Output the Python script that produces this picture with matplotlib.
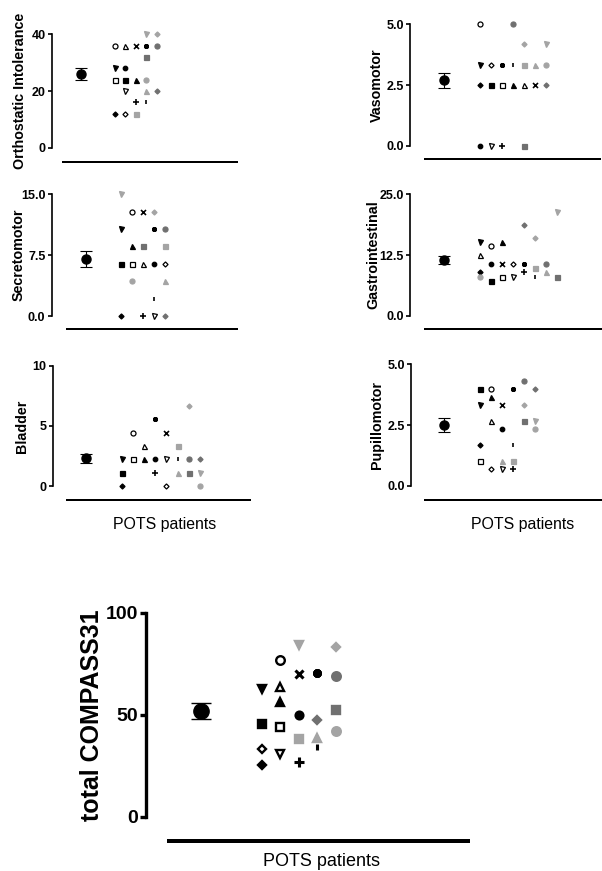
import numpy as np
import matplotlib
matplotlib.use("Agg")
import matplotlib.pyplot as plt

plt.rcParams['font.family'] = ['Liberation Sans', 'DejaVu Sans']

# === Data: one value per patient (22 POTS patients), COMPASS-31 domain scores ===
orthostatic = [28, 24, 12, 12, 36, 36, 24, 24, 20, 36, 28, 16, 36, 16, 40, 12, 20, 20, 40, 36, 32, 24]
vasomotor = [3.33, 2.5, 3.33, 2.5, 5.0, 2.5, 2.5, 2.5, 0, 2.5, 0, 0, 3.33, 3.33, 4.17, 3.33, 3.33, 2.5, 4.17, 5.0, 0, 3.33]
secretomotor = [10.71, 6.43, 6.43, 0, 12.86, 6.43, 8.57, 6.43, 0, 12.86, 6.43, 0, 10.71, 2.14, 15.0, 8.57, 4.29, 0, 12.86, 10.71, 8.57, 4.29]
gastro = [15.18, 7.14, 10.71, 8.93, 14.29, 12.5, 15.18, 8.04, 8.04, 10.71, 10.71, 8.93, 10.71, 8.04, 21.43, 9.82, 8.93, 18.75, 16.07, 10.71, 8.04, 8.04]
bladder = [2.22, 1.11, 0, 0, 4.44, 3.33, 2.22, 2.22, 2.22, 4.44, 2.22, 1.11, 5.56, 2.22, 1.11, 3.33, 1.11, 2.22, 6.67, 2.22, 1.11, 0]
pupillomotor = [3.33, 4.0, 0.67, 1.67, 4.0, 2.67, 3.67, 1.0, 0.67, 3.33, 2.33, 0.67, 4.0, 1.67, 2.67, 1.0, 1.0, 4.0, 3.33, 4.33, 2.67, 2.33]
total = [62.8, 45.2, 33.1, 25.1, 76.6, 63.4, 56.1, 44.2, 30.9, 69.8, 49.7, 26.7, 70.3, 34.0, 84.4, 38.1, 38.7, 47.5, 83.1, 69.0, 52.4, 42.0]

# column (scatter slot) each patient sits in, per panel
slots_ortho = [1, 2, 2, 1, 1, 2, 3, 1, 2, 3, 2, 3, 4, 4, 4, 3, 4, 5, 5, 5, 4, 4]
slots_vaso = [1, 2, 2, 1, 1, 5, 4, 3, 2, 6, 1, 3, 3, 4, 7, 5, 6, 7, 5, 4, 5, 7]
slots_secreto = [1, 1, 5, 1, 2, 3, 2, 2, 4, 3, 4, 3, 4, 4, 1, 5, 5, 5, 4, 5, 3, 2]
slots_gastro = [1, 2, 4, 1, 2, 1, 3, 3, 4, 3, 2, 5, 5, 6, 8, 6, 7, 5, 6, 7, 8, 1]
slots_bladder = [1, 1, 5, 1, 2, 3, 3, 2, 5, 5, 4, 4, 4, 6, 8, 6, 6, 8, 7, 7, 7, 8]
slots_pupillo = [1, 1, 2, 1, 2, 2, 2, 1, 3, 3, 3, 4, 4, 4, 6, 4, 3, 6, 5, 5, 5, 6]
slots_total = [1, 1, 1, 1, 2, 2, 2, 2, 2, 3, 3, 3, 4, 4, 3, 3, 4, 4, 5, 5, 5, 5]

# === Patient symbols ===
LG = '#a4a4a4'
DG = '#707070'
ASTER = (8, 2, 0)
markers = ['v', 's', 'D', 'D', 'o', '^', '^', 's', 'v', 'x', 'o', '+', ASTER, '|',
           'v', 's', '^', 'D', 'D', 'o', 's', 'o']
faces = ['k', 'k', 'w', 'k', 'w', 'w', 'k', 'w', 'w', 'k', 'k', 'k', 'k', 'k',
         LG, LG, LG, DG, LG, DG, DG, LG]
edges = ['k', 'k', 'k', 'k', 'k', 'k', 'k', 'k', 'k', 'k', 'k', 'k', 'k', 'k',
         LG, LG, LG, DG, LG, DG, DG, LG]
scale = [1, 1, 0.72, 0.72, 1, 1, 1, 1, 1, 1, 0.9, 1.1, 1, 0.8,
         1, 1, 1, 0.72, 0.72, 1, 1, 1]

W, H = 602, 871
fig = plt.figure(figsize=(W / 100, H / 100), dpi=100)


def panel(values, slots, ymax, ticks, ticklabels, ylabel, box, label_x,
          xmax=14.4, big=False, xlabel_xy=None):
    left, right, top, y0, spine_x, line_y = box
    ax = fig.add_axes([left / W, 1 - y0 / H, (right - left) / W, (y0 - top) / H])
    ax.set_xlim(-1.72, xmax)
    ax.set_ylim(0, ymax)
    for s in ['top', 'right']:
        ax.spines[s].set_visible(False)
    lw = 2.4 if big else 1.2
    ax.spines['left'].set_linewidth(lw)
    ax.spines['bottom'].set_linewidth(lw * 1.2)
    ax.spines['left'].set_position(('outward', (left - spine_x) * 0.72))
    ax.spines['left'].set_bounds(0, ymax)
    ax.spines['bottom'].set_position(('outward', (line_y - y0) * 0.72))
    ax.set_xticks([])
    ax.set_yticks(ticks)
    ax.set_yticklabels(ticklabels, fontweight='bold', fontsize=14 if big else 9)
    ax.tick_params(axis='y', length=4.5 if big else 3, width=lw, pad=1.5)
    ax.set_ylabel(ylabel, fontweight='bold', fontsize=18 if big else 10.3, va='center')
    ax.yaxis.set_label_coords((label_x - left) / (right - left), 0.5)

    ms = 6.2 if big else 3.6
    mew = 1.7 if big else 0.9
    for i, v in enumerate(values):
        x = 3.27 + (slots[i] - 1)
        ax.plot([x], [v], ls='none', marker=markers[i], ms=ms * scale[i],
                mfc=faces[i], mec=edges[i], mew=mew * (1.3 if markers[i] in ('x', '+', '|', ASTER) else 1),
                clip_on=False)

    vals = np.array(values, dtype=float)
    mean = vals.mean()
    sem = vals.std(ddof=1) / np.sqrt(len(vals))
    ax.errorbar([0], [mean], yerr=[sem], fmt='o', color='k', ms=11 if big else 6.5,
                capsize=7 if big else 4, elinewidth=1 if big else 0.8,
                capthick=1 if big else 0.8, clip_on=False)

    if xlabel_xy is not None:
        fig.text(xlabel_xy[0] / W, 1 - xlabel_xy[1] / H, 'POTS patients',
                 ha='center', va='center', fontsize=13 if big else 11.4)
    return ax


panel(orthostatic, slots_ortho, 40, [0, 20, 40], ['0', '20', '40'],
      'Orthostatic Intolerance', (63, 237, 34.3, 147.7, 51.7, 161.7), 20, xmax=15.0)
panel(vasomotor, slots_vaso, 5, [0, 2.5, 5], ['0.0', '2.5', '5.0'],
      'Vasomotor', (425, 600, 24.3, 145.7, 410, 159.3), 376.7, xmax=14.2)
panel(secretomotor, slots_secreto, 15, [0, 7.5, 15], ['0.0', '7.5', '15.0'],
      'Secretomotor', (66.7, 237, 194.3, 316, 51.7, 329.3), 18.3, xmax=13.8)
panel(gastro, slots_gastro, 25, [0, 12.5, 25], ['0.0', '12.5', '25.0'],
      'Gastrointestinal', (425, 602, 194.3, 315.7, 410, 329), 373.5, xmax=14.4)
panel(bladder, slots_bladder, 10, [0, 5, 10], ['0', '5', '10'],
      'Bladder', (66.7, 250, 365.7, 486, 52.7, 500), 21.7, xmax=14.8,
      xlabel_xy=(165, 524))
panel(pupillomotor, slots_pupillo, 5, [0, 2.5, 5], ['0.0', '2.5', '5.0'],
      'Pupillomotor', (425, 602, 364.3, 485.7, 411, 500), 376.7, xmax=14.4,
      xlabel_xy=(523, 524))
panel(total, slots_total, 100, [0, 50, 100], ['0', '50', '100'],
      'total COMPASS31', (169.3, 468, 612.7, 816.7, 146, 840.7), 91.7, xmax=14.4,
      big=True, xlabel_xy=(322, 861))

fig.savefig('out.png', dpi=100)
